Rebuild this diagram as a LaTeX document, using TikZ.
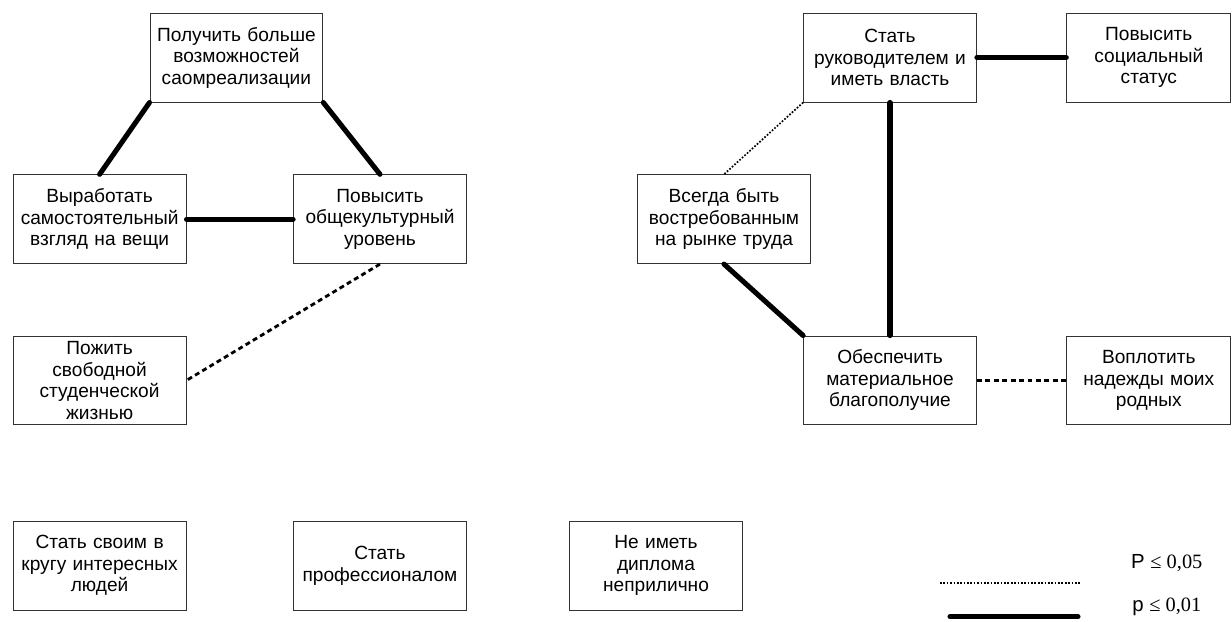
\documentclass[tikz,border=0pt]{standalone}
\usepackage{fontspec}
\setmainfont{Liberation Sans}
\newfontfamily\legendfont{Liberation Serif}
\usetikzlibrary{positioning}

\begin{document}
\begin{tikzpicture}
		\tikzstyle{box} = [draw=black!80, line width=0.7pt, rectangle, inner xsep=0.04cm, inner ysep=0pt,
		text width=4.24cm, minimum height=2.22cm, align=center, font=\fontsize{13.6}{15.3}\selectfont]
		\tikzstyle{narrowbox} = [box, text width=4.02cm]
		\tikzstyle{strongline} = [line width=3.6pt, line cap=round]
		\tikzstyle{midline} = [line width=2pt, dash pattern=on 3.5pt off 2.5pt]
		\tikzstyle{weakline} = [line width=1.2pt, dash pattern=on 1.2pt off 1.2pt]
		\tikzstyle{legend} = [inner sep=0pt, font=\fontsize{14.5}{16}\selectfont]
		
		\useasboundingbox (0,0) rectangle (30.8,-15.525);
		
		\node [box] (v1) at (5.91,-1.44) {Получить больше\\ возможностей\\ саомреализации};
		\node [box] (v2) at (2.49,-5.48) {Выработать\\ самостоятельный\\ взгляд на вещи};
		\node [box] (v3) at (9.5,-5.48) {Повысить\\ общекультурный\\ уровень};
		\node [box] (v4) at (2.49,-9.51) {Пожить\\ свободной\\ студенческой\\ жизнью};
		\node [box] (v5) at (22.25,-1.44) {Стать\\ руководителем и\\ иметь власть};
		\node [narrowbox] (v6) at (28.72,-1.44) {Повысить\\ социальный\\ статус};
		\node [box] (v7) at (18.1,-5.48) {Всегда быть\\ востребованным\\ на рынке труда};
		\node [box] (v8) at (22.25,-9.51) {Обеспечить\\ материальное\\ благополучие};
		\node [narrowbox] (v9) at (28.72,-9.51) {Воплотить\\ надежды моих\\ родных};
		\node [box] (v10) at (2.49,-14.14) {Стать своим в\\ кругу интересных\\ людей};
		\node [box] (v11) at (9.5,-14.14) {Стать\\ профессионалом};
		\node [box] (v12) at (16.4,-14.14) {Не иметь\\ диплома\\ неприлично};
		
		\draw [strongline] (v1.south west) edge (v2.north);
		\draw [strongline] (v1.south east) edge (v3.north);
		\draw [strongline] (v2.east) edge (v3.west);
		\draw [midline] (v3.south) edge (v4.east);
		\draw [weakline] (v5.south west) edge (v7.north);
		\draw [strongline] (v5.east) edge (v6.west);
		\draw [strongline] (v5.south) edge (v8.north);
		\draw [strongline] (v7.south) edge (v8.north west);
		\draw [midline] (v8.east) edge (v9.west);
		
		% legend
		\coordinate (l1) at (23.5,-14.58);
		\coordinate (l2) at (27.0,-14.58);
		\coordinate (l3) at (23.75,-15.42);
		\coordinate (l4) at (26.95,-15.42);
		\draw [weakline] (l1) -- (l2);
		\draw [strongline] (l3) -- (l4);
		\node [legend] (t1) at (29.17,-14.08) {P {\legendfont ≤ 0,05}};
		\node [legend] (t2) at (29.17,-15.18) {p {\legendfont ≤ 0,01}};
		\end{tikzpicture}
\end{document}
